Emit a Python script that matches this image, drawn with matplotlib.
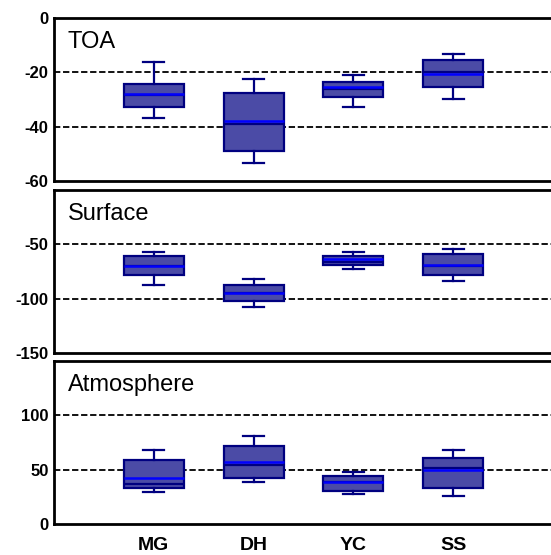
import matplotlib
matplotlib.use('Agg')
import matplotlib.pyplot as plt

plt.rcParams['font.family'] = ['Liberation Sans', 'DejaVu Sans']

# sites
sites = ['MG', 'DH', 'YC', 'SS']

# TOA box statistics
toa_whislo = [-36.9, -53.2, -32.6, -29.7]
toa_q1 = [-32.8, -49.0, -29.1, -25.4]
toa_med = [-28.4, -39.0, -26.2, -19.8]
toa_mean = [-28.1, -37.8, -25.5, -20.6]
toa_q3 = [-24.4, -27.5, -23.7, -15.6]
toa_whishi = [-16.3, -22.3, -20.9, -13.4]

# Surface box statistics
sfc_whislo = [-87.7, -107.4, -72.6, -83.7]
sfc_q1 = [-78.4, -102.5, -69.2, -78.4]
sfc_med = [-70.3, -95.0, -66.4, -69.5]
sfc_mean = [-70.1, -94.4, -63.9, -69.3]
sfc_q3 = [-61.1, -87.4, -61.1, -59.0]
sfc_whishi = [-57.4, -81.8, -57.4, -54.1]

# Atmosphere box statistics
atm_whislo = [29.3, 38.5, 27.4, 25.6]
atm_q1 = [33.0, 42.2, 30.8, 33.0]
atm_med = [37.0, 54.0, 38.8, 51.5]
atm_mean = [42.2, 57.0, 38.5, 49.4]
atm_q3 = [58.9, 71.6, 44.1, 60.8]
atm_whishi = [68.2, 81.1, 47.8, 68.2]

panels = [
    ('TOA', (-60, 0), [0, -20, -40, -60], [-20, -40],
     toa_whislo, toa_q1, toa_med, toa_mean, toa_q3, toa_whishi),
    ('Surface', (-150, 0), [-50, -100, -150], [-50, -100],
     sfc_whislo, sfc_q1, sfc_med, sfc_mean, sfc_q3, sfc_whishi),
    ('Atmosphere', (0, 150), [0, 50, 100], [50, 100],
     atm_whislo, atm_q1, atm_med, atm_mean, atm_q3, atm_whishi),
]

fig = plt.figure(figsize=(5.51, 5.55), dpi=100)
W, H = 551, 555
tops = [18, 190, 361]
ph = 163
left, right = 54, 553

for i, (name, ylim, ticks, dashes, lo, q1, med, mean, q3, hi) in enumerate(panels):
    ax = fig.add_axes([left / W, 1 - (tops[i] + ph) / H, (right - left) / W, ph / H])
    stats = []
    for j in range(len(sites)):
        stats.append({'whislo': lo[j], 'q1': q1[j], 'med': med[j], 'mean': mean[j],
                      'q3': q3[j], 'whishi': hi[j], 'fliers': [], 'label': sites[j]})
    for d in dashes:
        ax.axhline(d, color='black', lw=1.3, ls=(0, (3.5, 1.5)), zorder=1)
    ax.bxp(stats, positions=[1, 2, 3, 4], widths=0.6, patch_artist=True,
           showmeans=True, meanline=True, showfliers=False,
           boxprops=dict(facecolor='#4b4ba6', edgecolor='#000080', linewidth=1.6),
           whiskerprops=dict(color='#000080', linewidth=1.6),
           capprops=dict(color='#000080', linewidth=1.6),
           medianprops=dict(color='#000080', linewidth=1.6, zorder=4),
           meanprops=dict(color='#0000ff', linewidth=1.8, linestyle='-', zorder=5),
           capwidths=0.21, zorder=3)
    ax.set_xlim(0, 5)
    ax.set_ylim(*ylim)
    ax.set_yticks(ticks)
    ax.set_yticklabels([str(t) for t in ticks], fontsize=12, fontweight='bold')
    ax.tick_params(axis='y', length=0, pad=4)
    if i < 2:
        ax.set_xticks([])
    else:
        ax.set_xticks([1, 2, 3, 4])
        ax.set_xticklabels(sites, fontsize=14, fontweight='bold')
        ax.tick_params(axis='x', length=0, pad=9)
    for s in ax.spines.values():
        s.set_linewidth(2)
    ax.text(0.028, 0.92, name, transform=ax.transAxes, fontsize=17, va='top', ha='left')

fig.savefig('out.png', dpi=100)
